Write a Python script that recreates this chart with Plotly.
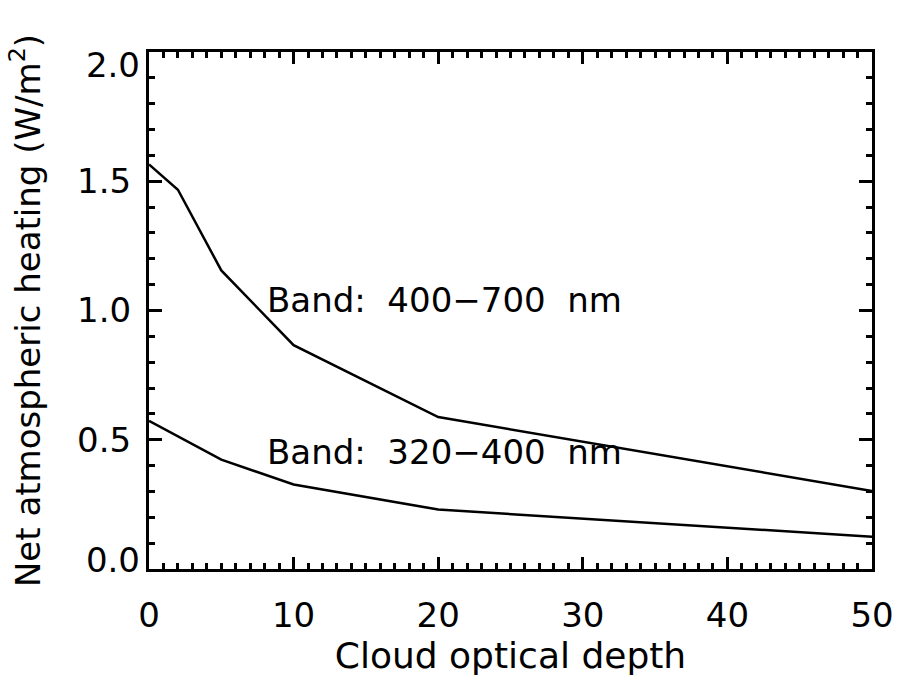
import plotly.graph_objects as go

# Net atmospheric heating versus cloud optical depth for two spectral bands
depth = [0, 2, 5, 10, 20, 50]
heat_400_700 = [1.565, 1.467, 1.155, 0.866, 0.588, 0.302]
heat_320_400 = [0.573, 0.514, 0.423, 0.327, 0.230, 0.125]

x_tick_vals = [0, 10, 20, 30, 40, 50]
x_tick_text = ["0", "10", "20", "30", "40", "50"]
y_tick_vals = [0.0, 0.5, 1.0, 1.5, 2.0]
y_tick_text = ["0.0", "0.5", "1.0", "1.5", "2.0"]

band_labels = ["Band:  400\u2212700  nm", "Band:  320\u2212400  nm"]

FONT = "DejaVu Sans"
BLACK = "#000000"
TICKFONT = dict(family=FONT, size=34, color=BLACK)

fig = go.Figure()
for heat in (heat_400_700, heat_320_400):
    fig.add_trace(go.Scatter(
        x=depth, y=heat, mode="lines",
        line=dict(color=BLACK, width=2.5),
        showlegend=False, hoverinfo="skip",
    ))
# empty traces so the two label-only y axes get drawn
for ax in ("y2", "y3"):
    fig.add_trace(go.Scatter(x=[], y=[], yaxis=ax, showlegend=False,
                             hoverinfo="skip"))

fig.add_annotation(x=8.0, y=1.04, text=band_labels[0], showarrow=False,
                   xanchor="left", yanchor="middle",
                   font=dict(family=FONT, size=34, color=BLACK))
fig.add_annotation(x=8.0, y=0.453, text=band_labels[1], showarrow=False,
                   xanchor="left", yanchor="middle",
                   font=dict(family=FONT, size=34, color=BLACK))

axis_common = dict(
    ticks="inside", tickwidth=3, tickcolor=BLACK,
    showline=True, linewidth=3, linecolor=BLACK, mirror="ticks",
    showgrid=False, zeroline=False,
    tickfont=TICKFONT,
)

fig.update_xaxes(
    range=[0, 50], tickmode="array", tickvals=x_tick_vals, ticktext=x_tick_text,
    ticklen=12, ticklabelstandoff=14,
    minor=dict(dtick=1, ticks="inside", ticklen=6, tickwidth=3, tickcolor=BLACK),
    title=dict(text="Cloud optical depth", standoff=8,
               font=dict(family=FONT, size=36, color=BLACK)),
    **axis_common,
)

# the end labels (0.0 and 2.0) sit on their own overlay axes so they can be
# nudged inside the axis span; the middle labels stay on the main axis
fig.update_layout(
    yaxis=dict(
        range=[0, 2], tickmode="array", tickvals=y_tick_vals[1:-1],
        ticktext=y_tick_text[1:-1],
        ticklen=13, ticklabelstandoff=8,
        minor=dict(dtick=0.1, ticks="inside", ticklen=6, tickwidth=3, tickcolor=BLACK),
        title=dict(text="Net atmospheric heating (W/m<sup>2</sup>)", standoff=27,
                   font=dict(family=FONT, size=34, color=BLACK)),
        **axis_common,
    ),
    yaxis2=dict(
        overlaying="y", anchor="x", side="left", range=[0, 2],
        tickmode="array", tickvals=[y_tick_vals[-1]], ticktext=[y_tick_text[-1]],
        ticks="", showline=False, showgrid=False, zeroline=False,
        ticklabelstandoff=8, ticklabelshift=13, tickfont=TICKFONT,
    ),
    yaxis3=dict(
        overlaying="y", anchor="x", side="left", range=[0, 2],
        tickmode="array", tickvals=[y_tick_vals[0]], ticktext=[y_tick_text[0]],
        ticks="", showline=False, showgrid=False, zeroline=False,
        ticklabelstandoff=8, ticklabelshift=-9, tickfont=TICKFONT,
    ),
)

fig.update_layout(
    width=906, height=680, autosize=False,
    margin=dict(l=149, r=25, t=52, b=108, pad=0),
    paper_bgcolor="white", plot_bgcolor="white",
    showlegend=False,
)

fig.write_html("out.html")
